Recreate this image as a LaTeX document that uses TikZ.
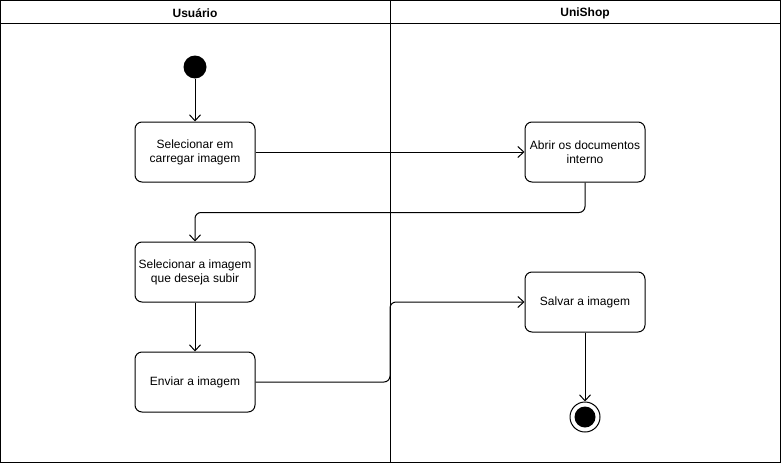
\documentclass[tikz,border=0pt]{standalone}
\usepackage{fontspec}
\setmainfont{Liberation Sans}
\usetikzlibrary{arrows.meta,positioning}

\begin{document}
\begin{tikzpicture}[x=1pt,y=-1pt,line width=1pt,
    >={Straight Barb[length=6pt,width=11pt]},
    activity/.style={draw,rounded corners=7pt,minimum width=120pt,minimum height=60pt,
      inner sep=1pt,align=center,font=\fontsize{12}{14}\selectfont},
    lane/.style={font=\bfseries\fontsize{12}{14}\selectfont},
    flow/.style={->,rounded corners=6pt}]
  \useasboundingbox (0,0) rectangle (781,463);
  % swimlanes
  \draw (0.5,0.5) rectangle (780.5,462.5);
  \draw (0.5,23) -- (780.5,23);
  \coordinate (split) at (390,0.5);
  \draw (split) -- (390,462.5);
  \node[lane] (u) at (195,13) {Usuário};
  \node[lane] (s) at (585,13) {UniShop};

  \node[circle,fill,minimum size=23pt,inner sep=0pt] (start) at (195,67) {};
  \node[activity] (sel)  at (195,152) {Selecionar em\\carregar imagem};
  \node[activity] (abr)  at (585,152) {Abrir os documentos\\interno};
  \node[activity] (img)  at (195,272) {Selecionar a imagem\\que deseja subir};
  \node[activity] (env)  at (195,382) {Enviar a imagem};
  \node[activity] (salv) at (585,302) {Salvar a imagem};
  \node[circle,draw,minimum size=30pt,inner sep=0pt,
    path picture={\fill (path picture bounding box.center) circle (10.5pt);}] (end) at (585,417) {};

  \draw[flow] (start) -- (sel);
  \draw[flow] (sel) -- (abr);
  \draw[flow] (abr.south) -- ++(0,30) -| (img.north);
  \draw[flow] (img) -- (env);
  \draw[flow] (env.east) -- (env.east -| split) |- (salv.west);
  \draw[flow] (salv) -- (end);
\end{tikzpicture}
\end{document}
